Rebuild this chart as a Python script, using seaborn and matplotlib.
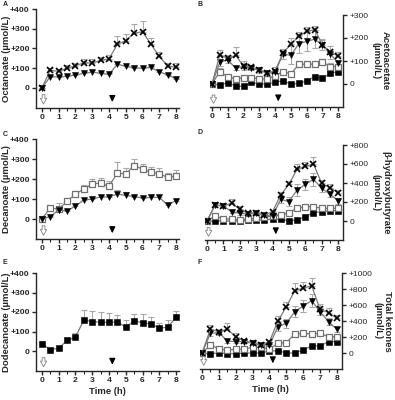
import matplotlib
matplotlib.use("Agg")
import pandas as pd
import matplotlib.pyplot as plt
import seaborn as sns
from matplotlib.ticker import MultipleLocator, FuncFormatter

# ---------------------
# Data, sampling every 0.5 h
# ---------------------
time_h = [0, 0.5, 1, 1.5, 2, 2.5, 3, 3.5, 4, 4.5, 5, 5.5, 6, 6.5, 7, 7.5, 8]

# A: octanoate
oct_cross = [0, 90, 84, 100, 112, 128, 126, 140, 147, 221, 240, 277, 285, 222, 160, 112, 105]
oct_cross_err = [0, 10, 10, 15, 15, 20, 20, 15, 20, 40, 35, 45, 55, 30, 20, 15, 20]
oct_tri = [0, 57, 56, 59, 66, 74, 81, 74, 69, 120, 110, 102, 100, 104, 82, 66, 47]
oct_tri_err = [0, 6, 6, 6, 6, 8, 8, 6, 6, 10, 8, 8, 8, 8, 8, 6, 6]

# C: decanoate
dec_open = [0, 55, 50, 88, 125, 150, 175, 180, 163, 230, 225, 267, 250, 233, 227, 208, 217]
dec_open_err = [0, 10, 30, 15, 15, 20, 25, 25, 25, 55, 30, 35, 25, 25, 30, 20, 30]
dec_tri = [0, 12, 45, 40, 65, 95, 100, 110, 110, 125, 118, 112, 105, 108, 108, 70, 92]
dec_tri_err = [0, 5, 8, 8, 8, 10, 10, 10, 10, 20, 15, 10, 10, 12, 12, 8, 8]

# E: dodecanoate
dodec_fill = [37, 7, 14, 54, 71, 159, 151, 147, 147, 149, 122, 154, 146, 139, 117, 122, 173]
dodec_fill_err = [15, 8, 8, 15, 20, 50, 55, 55, 50, 35, 35, 35, 45, 35, 25, 35, 30]

# B: acetoacetate
aca_cross = [0, 127, 112, 124, 79, 72, 61, 47, 58, 134, 174, 207, 229, 236, 171, 137, 123]
aca_cross_err = [0, 20, 15, 35, 20, 10, 10, 10, 15, 20, 25, 20, 20, 15, 25, 30, 15]
aca_tri = [0, 95, 105, 69, 76, 69, 60, 47, 51, 130, 125, 175, 185, 195, 170, 130, 92]
aca_tri_err = [0, 15, 15, 10, 15, 10, 10, 5, 5, 20, 40, 40, 40, 40, 20, 20, 10]
aca_open = [0, 54, 32, 22, 28, 28, 22, 22, 36, 54, 44, 86, 86, 86, 95, 76, 76]
aca_open_err = [0, 15, 5, 5, 5, 5, 5, 5, 5, 8, 8, 10, 8, 8, 12, 15, 10]
aca_fill = [0, -4, 6, -9, -9, 7, 0, 0, 7, 15, -1, 3, 13, 32, 25, 47, 54]
aca_fill_err = [0, 3, 3, 3, 3, 3, 3, 3, 3, 4, 4, 4, 4, 5, 5, 8, 8]

# D: beta-hydroxybutyrate
bhb_cross = [0, 168, 158, 186, 123, 81, 88, 63, 98, 274, 386, 545, 575, 600, 396, 351, 298]
bhb_cross_err = [0, 30, 20, 50, 40, 15, 10, 10, 10, 30, 30, 60, 50, 70, 40, 40, 30]
bhb_tri = [0, 168, 158, 98, 81, 74, 81, 63, 53, 228, 204, 326, 386, 439, 344, 284, 214]
bhb_tri_err = [0, 20, 20, 15, 15, 10, 10, 10, 10, 40, 50, 60, 60, 70, 40, 30, 30]
bhb_open = [0, 53, 21, 21, 10, 21, 28, 39, 53, 63, 88, 133, 151, 151, 133, 133, 133]
bhb_open_err = [0, 10, 5, 5, 5, 5, 5, 5, 5, 10, 10, 15, 15, 15, 15, 15, 15]
bhb_fill = [0, 0, 0, 0, 0, 7, 10, 10, 21, 18, 4, 10, 46, 88, 98, 109, 109]
bhb_fill_err = [0, 3, 3, 3, 3, 3, 3, 3, 5, 5, 5, 5, 8, 10, 10, 12, 12]

# F: total ketones
tk_cross = [0, 296, 267, 296, 204, 150, 129, 100, 142, 400, 579, 779, 808, 842, 546, 504, 433]
tk_cross_err = [0, 60, 30, 80, 40, 20, 15, 15, 15, 60, 60, 90, 80, 90, 70, 60, 40]
tk_tri = [0, 246, 254, 150, 142, 142, 121, 100, 100, 329, 371, 517, 588, 654, 517, 392, 296]
tk_tri_err = [0, 30, 30, 20, 20, 15, 15, 10, 10, 60, 60, 70, 80, 80, 40, 40, 30]
tk_open = [0, 100, 50, 38, 46, 50, 71, 71, 50, 121, 129, 238, 246, 238, 246, 204, 204]
tk_open_err = [0, 15, 8, 8, 8, 8, 8, 8, 8, 15, 15, 20, 20, 20, 20, 25, 20]
tk_fill = [0, -12, 4, -10, -10, 0, 0, 0, 25, 29, 0, 0, 38, 88, 88, 142, 142]
tk_fill_err = [0, 4, 4, 4, 4, 4, 4, 4, 6, 6, 6, 6, 8, 10, 10, 15, 15]

# dosing times (open arrow = first dose, filled arrow = second dose)
dose_times = [0.1, 4.2]

W, H = 395, 400

STYLES = {
    "cross": dict(marker="x", markerfacecolor="black", mec="black", markersize=4.8, mew=1.2),
    "tri": dict(marker="v", markerfacecolor="black", mec="black", markersize=4.3, mew=0.4),
    "open": dict(marker="s", markerfacecolor="white", mec="#707070", markersize=4.2, mew=0.9),
    "fill": dict(marker="s", markerfacecolor="black", mec="black", markersize=4.2, mew=0.4),
}


def plus_fmt(v, pos):
    return "0" if v == 0 else f"+{v:.0f}"


def px_axes(fig, left, top, right, bottom):
    return fig.add_axes([left / W, 1 - bottom / H, (right - left) / W, (bottom - top) / H])


def draw_series(ax, y, err, kind, both=False):
    lower = err if both else [0] * len(err)
    ax.errorbar(time_h, y, yerr=[lower, err], fmt="none", ecolor="#a8a8a8",
                elinewidth=0.8, capsize=2, capthick=0.8, zorder=1)
    df = pd.DataFrame({"t": time_h, "v": y})
    sns.lineplot(data=df, x="t", y="v", ax=ax, color="#7a7a7a", lw=0.9,
                 errorbar=None, zorder=2, **STYLES[kind])


def style_axes(ax, box, ylim, ystep, ylabel, letter, right=False, xlim=(-0.35, 8.2),
               xlabel=None, label_px=None):
    left, top, rgt, bottom = box
    ax.set_xlim(*xlim)
    ax.set_ylim(*ylim)
    ax.xaxis.set_major_locator(MultipleLocator(1))
    ax.xaxis.set_minor_locator(MultipleLocator(0.5))
    ax.set_yticks(list(range(0, ylim[1] + 1, ystep)))
    ax.yaxis.set_major_formatter(FuncFormatter(plus_fmt))
    ax.tick_params(axis="both", which="major", length=3, width=1, labelsize=6.1, pad=1.5)
    ax.tick_params(axis="x", which="minor", length=2, width=0.8)
    for lab in ax.get_xticklabels() + ax.get_yticklabels():
        lab.set_fontweight("bold")
    if right:
        sns.despine(ax=ax, left=True, right=False)
        ax.yaxis.tick_right()
        ax.yaxis.set_label_position("right")
        ax.set_ylabel(ylabel, rotation=270, fontsize=6.8, fontweight="bold",
                      linespacing=1.15, va="bottom", ha="center")
    else:
        sns.despine(ax=ax)
        ax.set_ylabel(ylabel, fontsize=6.8, fontweight="bold")
    # label edge placed at a pixel column (right edge for left panels, left edge for right)
    ax.yaxis.set_label_coords((label_px - left) / (rgt - left), 0.5)
    for sp in ax.spines.values():
        sp.set_linewidth(1)
    ax.set_xlabel(xlabel if xlabel else "", fontsize=6.8, fontweight="bold", labelpad=2)

    # dosing arrows
    ax.annotate("", xy=(dose_times[0], 0.01), xytext=(dose_times[0], 0.16),
                xycoords=("data", "axes fraction"), textcoords=("data", "axes fraction"),
                arrowprops=dict(arrowstyle="simple,head_length=0.45,head_width=0.5,tail_width=0.22",
                                fc="white", ec="#808080", lw=0.6, mutation_scale=9))
    ax.annotate("", xy=(dose_times[1], 0.03), xytext=(dose_times[1], 0.15),
                xycoords=("data", "axes fraction"), textcoords=("data", "axes fraction"),
                arrowprops=dict(arrowstyle="-|>,head_length=0.45,head_width=0.22",
                                fc="black", ec="black", lw=0.9, mutation_scale=8))
    ax.figure.text(letter[1] / W, 1 - letter[2] / H, letter[0], fontsize=5,
                   fontweight="bold", ha="center", va="center")


def main():
    sns.set_style("ticks")
    plt.rcParams["font.family"] = ["Liberation Sans", "DejaVu Sans"]

    fig = plt.figure(figsize=(W / 100, H / 100), dpi=100)

    # ---------------------
    # Left column: fatty acids
    # ---------------------
    box_a = (36, 9, 179.4, 107.75)
    ax_a = px_axes(fig, *box_a)
    draw_series(ax_a, oct_cross, oct_cross_err, "cross")
    draw_series(ax_a, oct_tri, oct_tri_err, "tri")
    style_axes(ax_a, box_a, (-100, 400), 100, "Octanoate (\u00b5mol/L)", ("A", 5, 5), label_px=11.5)

    box_c = (36, 139, 179.4, 239)
    ax_c = px_axes(fig, *box_c)
    draw_series(ax_c, dec_open, dec_open_err, "open")
    draw_series(ax_c, dec_tri, dec_tri_err, "tri")
    style_axes(ax_c, box_c, (-100, 400), 100, "Decanoate (\u00b5mol/L)", ("C", 5, 134), label_px=11.5)

    box_e = (36, 273, 179.4, 370.5)
    ax_e = px_axes(fig, *box_e)
    draw_series(ax_e, dodec_fill, dodec_fill_err, "fill")
    style_axes(ax_e, box_e, (-100, 400), 100, "Dodecanoate (\u00b5mol/L)", ("E", 5, 263),
               xlabel="Time (h)", label_px=11.5)

    # ---------------------
    # Right column: ketone bodies
    # ---------------------
    panels = [
        ((209.6, 15, 343, 107), (-100, 300), 100, "Acetoacetate\n(\u00b5mol/L)", ("B", 200, 4),
         [(aca_fill, aca_fill_err, "fill"), (aca_open, aca_open_err, "open"),
          (aca_tri, aca_tri_err, "tri"), (aca_cross, aca_cross_err, "cross")], None, 371),
        ((204.5, 145, 343, 240), (-200, 800), 200, "\u03b2-hydroxybutyrate\n(\u00b5mol/L)", ("D", 200, 133),
         [(bhb_fill, bhb_fill_err, "fill"), (bhb_open, bhb_open_err, "open"),
          (bhb_tri, bhb_tri_err, "tri"), (bhb_cross, bhb_cross_err, "cross")], None, 371),
        ((199.5, 273, 342, 369), (-200, 1000), 200, "Total ketones\n(\u00b5mol/L)", ("F", 200, 263),
         [(tk_fill, tk_fill_err, "fill"), (tk_open, tk_open_err, "open"),
          (tk_tri, tk_tri_err, "tri"), (tk_cross, tk_cross_err, "cross")], "Time (h)", 373),
    ]
    for box, ylim, step, label, letter, series, xlabel, lpx in panels:
        ax = px_axes(fig, *box)
        for y, err, kind in series:
            draw_series(ax, y, err, kind, both=(kind != "cross"))
        style_axes(ax, box, ylim, step, label, letter, right=True, xlim=(-0.15, 8.3),
                   xlabel=xlabel, label_px=lpx)

    fig.savefig("out.png", dpi=100)
    plt.close(fig)


if __name__ == "__main__":
    main()
